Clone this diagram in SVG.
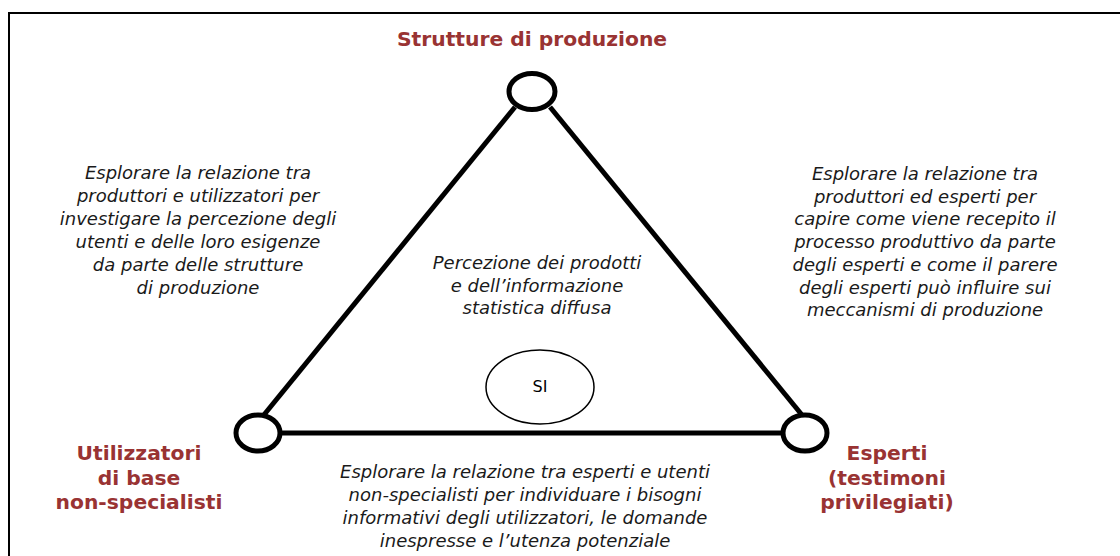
<svg xmlns="http://www.w3.org/2000/svg" width="1120" height="556" viewBox="0 0 1120 556">
<style>
.lbl{font-family:"DejaVu Sans","Liberation Sans",sans-serif;font-weight:bold;font-size:20.3px;fill:#993333;text-anchor:middle}
.it{font-family:"DejaVu Sans","Liberation Sans",sans-serif;font-style:italic;font-size:18px;fill:#1a1a1a;text-anchor:middle}
.node{fill:#fff;stroke:#000;stroke-width:5}
.edge{stroke:#000;stroke-width:5;fill:none}
</style>
<rect x="9" y="13" width="1130" height="600" fill="#fff" stroke="#000" stroke-width="2"/>
<g id="connectors">
<line class="edge" x1="515" y1="107" x2="263" y2="416"/>
<line class="edge" x1="550" y1="107" x2="802" y2="415"/>
<line class="edge" x1="281" y1="433" x2="783" y2="433"/>
</g>
<g id="node-top">
<ellipse class="node" cx="532" cy="91.5" rx="23" ry="18"/>
<text class="lbl" x="532" y="46">Strutture di produzione</text>
</g>
<g id="node-left">
<ellipse class="node" cx="258" cy="433" rx="22" ry="18"/>
<text class="lbl" x="139" y="460">Utilizzatori</text>
<text class="lbl" x="139" y="485">di base</text>
<text class="lbl" x="139" y="509">non-specialisti</text>
</g>
<g id="node-right">
<ellipse class="node" cx="805" cy="433" rx="22" ry="18"/>
<text class="lbl" x="887" y="460">Esperti</text>
<text class="lbl" x="887" y="485">(testimoni</text>
<text class="lbl" x="887" y="509">privilegiati)</text>
</g>
<g id="node-si">
<ellipse cx="540" cy="387" rx="54" ry="37" fill="#fff" stroke="#000" stroke-width="1.5"/>
<text x="540" y="392" font-family="DejaVu Sans, Liberation Sans, sans-serif" font-size="16" text-anchor="middle" fill="#000">SI</text>
</g>
<g id="text-left">
<text class="it" x="198" y="179">Esplorare la relazione tra</text>
<text class="it" x="198" y="202">produttori e utilizzatori per</text>
<text class="it" x="198" y="225">investigare la percezione degli</text>
<text class="it" x="198" y="248">utenti e delle loro esigenze</text>
<text class="it" x="198" y="271">da parte delle strutture</text>
<text class="it" x="198" y="294">di produzione</text>
</g>
<g id="text-right">
<text class="it" x="925" y="180">Esplorare la relazione tra</text>
<text class="it" x="925" y="202.7">produttori ed esperti per</text>
<text class="it" x="925" y="225.4">capire come viene recepito il</text>
<text class="it" x="925" y="248.1">processo produttivo da parte</text>
<text class="it" x="925" y="270.8">degli esperti e come il parere</text>
<text class="it" x="925" y="293.5">degli esperti può influire sui</text>
<text class="it" x="925" y="316.2">meccanismi di produzione</text>
</g>
<g id="text-center">
<text class="it" x="537" y="269">Percezione dei prodotti</text>
<text class="it" x="537" y="291.5">e dell’informazione</text>
<text class="it" x="537" y="314">statistica diffusa</text>
</g>
<g id="text-bottom">
<text class="it" x="525" y="478">Esplorare la relazione tra esperti e utenti</text>
<text class="it" x="525" y="501">non-specialisti per individuare i bisogni</text>
<text class="it" x="525" y="524">informativi degli utilizzatori, le domande</text>
<text class="it" x="525" y="547">inespresse e l’utenza potenziale</text>
</g>
</svg>
